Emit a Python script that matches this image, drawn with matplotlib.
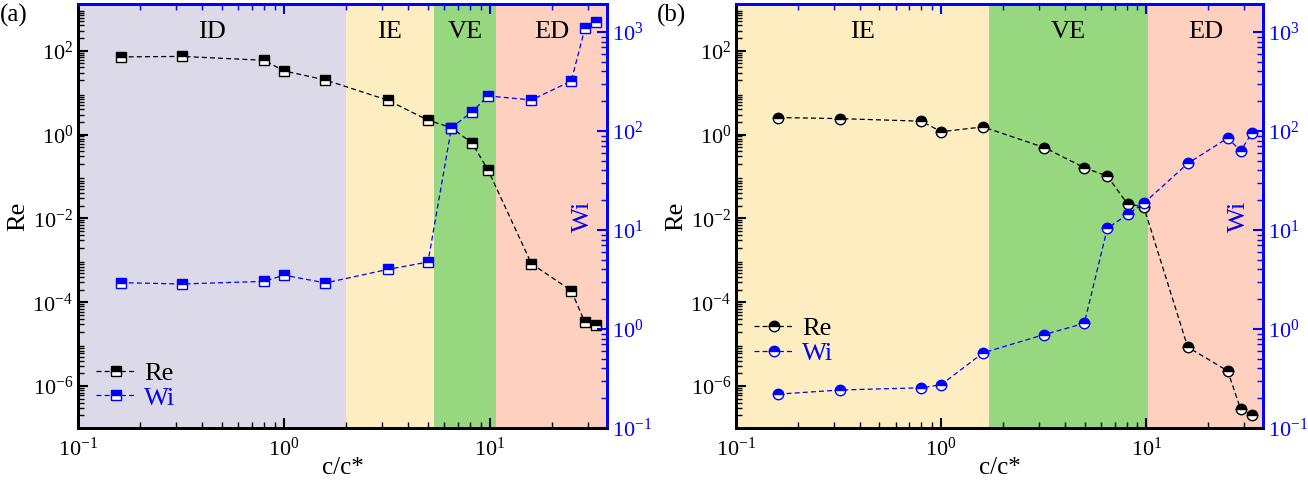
import math
import matplotlib
matplotlib.use("Agg")
import matplotlib.pyplot as plt
from matplotlib.ticker import LogLocator, NullFormatter, FixedLocator, LogFormatterSciNotation

plt.rcParams['font.family'] = ['Liberation Serif', 'DejaVu Serif']
plt.rcParams['mathtext.fontset'] = 'stix'

# ---- data: panel (a) ----
c_a = [0.161, 0.32, 0.80, 1.0, 1.59, 3.19, 5.0, 6.5, 8.2, 9.8, 15.9, 24.8, 28.9, 32.7]
re_a = [71, 73, 59, 33, 20, 6.6, 2.2, 1.46, 0.62, 0.14, 8.3e-4, 1.9e-4, 3.3e-5, 2.9e-5]
wi_a = [2.94, 2.85, 3.03, 3.5, 2.92, 4.0, 4.75, 108, 157, 226, 206, 320, 1090, 1250]
regions_a = ['ID', 'IE', 'VE', 'ED']
bounds_a = [0.1, 2.0, 5.35, 10.65, 40]

# ---- data: panel (b) ----
c_b = [0.161, 0.32, 0.80, 1.0, 1.6, 3.18, 4.98, 6.45, 8.1, 9.7, 15.9, 24.9, 28.8, 32.7]
re_b = [2.54, 2.4, 2.08, 1.17, 1.52, 0.49, 0.162, 0.102, 0.022, 0.019, 8.5e-6, 2.3e-6, 2.8e-7, 2.1e-7]
wi_b = [0.22, 0.242, 0.255, 0.274, 0.575, 0.88, 1.14, 10.4, 14.4, 18.6, 47, 85, 63, 96]
regions_b = ['IE', 'VE', 'ED']
bounds_b = [0.1, 1.71, 10.2, 40]

colors = {'ID': '#dcdae8', 'IE': '#fdedc0', 'VE': '#97d780', 'ED': '#fdd0bf'}

XLIM = (0.1, 37)
RE_LIM = (1e-7, 1.3e3)
WI_LIM = (0.1, 1920)
BLUE = '#0000ff'

fig = plt.figure(figsize=(13.08, 4.8), dpi=100)
boxes = [[0.0596, 0.1083, 0.4045, 0.8834], [0.5627, 0.1083, 0.4029, 0.8834]]


def panel(box, c, re, wi, regions, bounds, marker, tag, leg_y):
    ax = fig.add_axes(box)
    ax.set_xscale('log')
    ax.set_yscale('log')
    ax.set_xlim(*XLIM)
    ax.set_ylim(*RE_LIM)
    for i, r in enumerate(regions):
        ax.axvspan(bounds[i], bounds[i + 1], color=colors[r], lw=0, zorder=0)
    for i, r in enumerate(regions):
        lo = max(bounds[i], XLIM[0])
        hi = min(bounds[i + 1], XLIM[1])
        xm = 10 ** ((math.log10(lo) + math.log10(hi)) / 2)
        ax.text(xm, 0.935, r, transform=ax.get_xaxis_transform(), ha='center', va='center',
                fontsize=19, color='black', zorder=5)
    ax2 = ax.twinx()
    ax2.set_yscale('log')
    ax2.set_ylim(*WI_LIM)
    ax2.set_xlim(*XLIM)

    l1, = ax.plot(c, re, ls='--', dashes=(4, 2.5), lw=0.9, color='black', marker=marker,
                  ms=7.5, mfc='black', mfcalt='white', mec='black', mew=1.0,
                  fillstyle='top', zorder=3, label='Re')
    l2, = ax2.plot(c, wi, ls='--', dashes=(4, 2.5), lw=0.9, color=BLUE, marker=marker,
                   ms=7.5, mfc=BLUE, mfcalt='white', mec=BLUE, mew=1.0,
                   fillstyle='top', zorder=3, label='Wi')

    for a in (ax, ax2):
        a.tick_params(which='both', direction='in')
    ax.tick_params(axis='y', which='major', length=7, width=1.5, labelsize=16, colors='black', right=False)
    ax.tick_params(axis='y', which='minor', length=4, width=1.0, right=False)
    ax.tick_params(axis='x', which='major', length=7, width=1.5, labelsize=16, top=False, pad=7)
    ax.tick_params(axis='x', which='minor', length=4, width=1.0, top=False)
    ax.yaxis.set_minor_locator(LogLocator(base=10, subs=range(2, 10), numticks=20))
    ax.yaxis.set_minor_formatter(NullFormatter())
    ax.yaxis.set_major_locator(FixedLocator([1e-6, 1e-4, 1e-2, 1e0, 1e2]))
    ax.yaxis.set_major_formatter(LogFormatterSciNotation())

    ax2.tick_params(axis='y', which='major', length=7, width=1.5, labelsize=16, colors=BLUE)
    ax2.tick_params(axis='y', which='minor', length=4, width=1.0, colors=BLUE)
    ax2.yaxis.set_minor_formatter(NullFormatter())

    axt = ax.secondary_xaxis('top')
    axt.tick_params(which='both', direction='in', colors=BLUE, labeltop=False)
    axt.tick_params(which='major', length=7, width=1.5)
    axt.tick_params(which='minor', length=4, width=1.0)
    axt.set_xticklabels([])
    axt.xaxis.set_minor_formatter(NullFormatter())

    for a in (ax, ax2):
        a.spines['left'].set_color('black')
        a.spines['bottom'].set_color('black')
        a.spines['top'].set_color(BLUE)
        a.spines['right'].set_color(BLUE)
        for s in a.spines.values():
            s.set_linewidth(2.0)
    axt.spines['top'].set_color(BLUE)
    axt.spines['top'].set_linewidth(2.0)

    ax.set_xlabel('c/c*', fontsize=18, labelpad=-3)
    ax.set_ylabel('Re', fontsize=19, labelpad=2)
    ax2.text(0.955, 0.5, 'Wi', transform=ax.transAxes, rotation=90, ha='center', va='center',
             fontsize=19, color=BLUE)

    leg = ax2.legend(handles=[l1, l2], loc='lower left', bbox_to_anchor=(0.0, leg_y), frameon=False,
                     fontsize=19, handlelength=1.5, handletextpad=0.3, labelspacing=0.05,
                     borderaxespad=0.3)
    leg.get_texts()[1].set_color(BLUE)
    fig.text(box[0] - 0.049, 0.968, tag, fontsize=18, ha='center', va='center')
    return ax, ax2


panel(boxes[0], c_a, re_a, wi_a, regions_a, bounds_a, 's', '(a)', 0.0)
panel(boxes[1], c_b, re_b, wi_b, regions_b, bounds_b, 'o', '(b)', 0.105)

fig.savefig('out.png', dpi=100)
